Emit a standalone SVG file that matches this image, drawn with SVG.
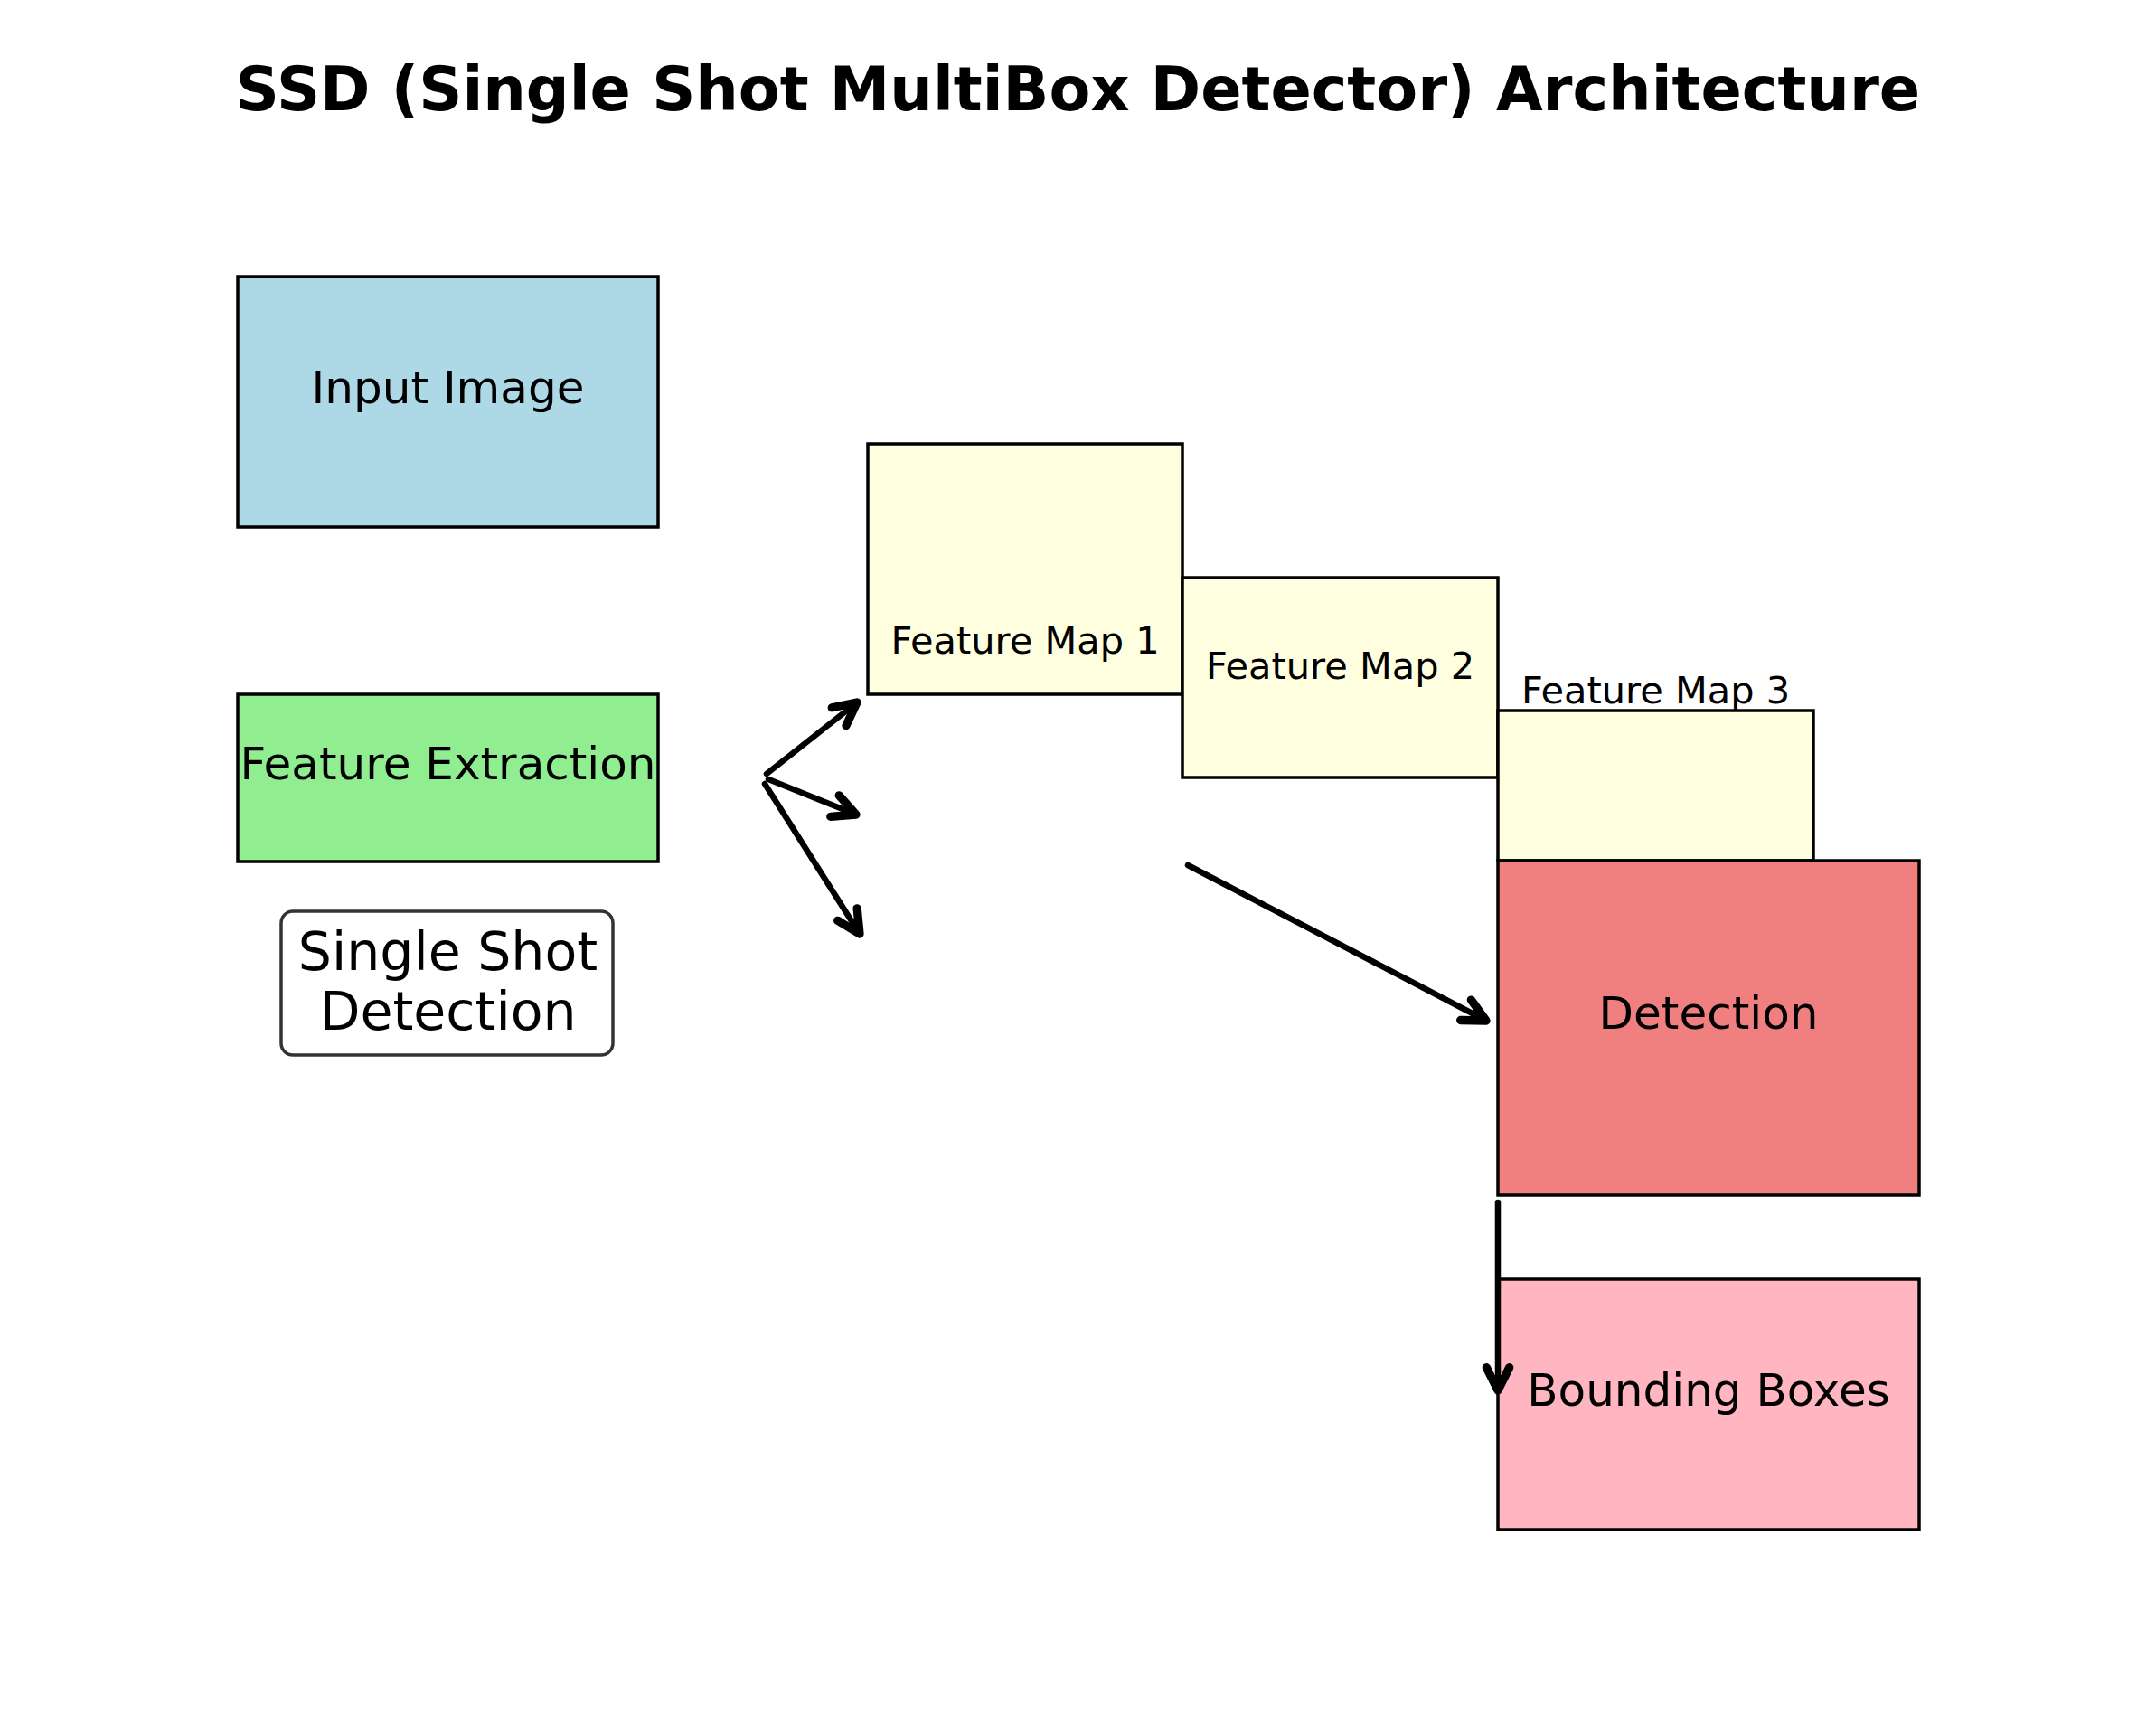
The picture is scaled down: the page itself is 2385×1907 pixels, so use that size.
<svg xmlns="http://www.w3.org/2000/svg" width="2385" height="1907" viewBox="0 0 2385 1907">
<style>
  .box { stroke: #000; stroke-width: 3.5; }
  .lbl { font-family: "DejaVu Sans", "Noto Sans", sans-serif; fill: #000; text-anchor: middle; }
  .big { font-size: 50px; }
  .fm { font-size: 41.5px; }
  .conn { stroke: #000; stroke-width: 6.5; stroke-linecap: round; fill: none; }
</style>
<defs>
  <marker id="ah" markerUnits="userSpaceOnUse" markerWidth="40" markerHeight="40" viewBox="-25 -15 30 30" refX="0" refY="0" orient="auto">
    <path d="M-19,-9.5 L0,0 L-19,9.5" fill="none" stroke="#000" stroke-width="7" stroke-linecap="round" stroke-linejoin="round"/>
  </marker>
</defs>
<rect width="2385" height="1907" fill="#fff"/>
<text x="1192.5" y="121.5" font-family="DejaVu Sans, sans-serif" font-weight="bold" font-size="66.8" text-anchor="middle">SSD (Single Shot MultiBox Detector) Architecture</text>

<g id="input-image">
  <rect class="box" x="263" y="306" width="465" height="277" fill="#ADD8E6"/>
  <text class="lbl big" x="495.5" y="446">Input Image</text>
</g>
<g id="feature-extraction">
  <rect class="box" x="263" y="768" width="465" height="185" fill="#90EE90"/>
  <text class="lbl big" x="495.5" y="862">Feature Extraction</text>
</g>
<g id="single-shot-detection">
  <rect x="311" y="1008" width="367" height="159" rx="13" ry="13" fill="#fff" stroke="#333" stroke-width="3.5"/>
  <text class="lbl" font-size="58.5" x="495.5" y="1073">Single Shot</text>
  <text class="lbl" font-size="58.5" x="495.5" y="1139">Detection</text>
</g>
<g id="feature-map-1">
  <rect class="box" x="960" y="491" width="348" height="277" fill="#FFFFE0"/>
  <text class="lbl fm" x="1134" y="722.5">Feature Map 1</text>
</g>
<g id="feature-map-2">
  <rect class="box" x="1308" y="639" width="349" height="221" fill="#FFFFE0"/>
  <text class="lbl fm" x="1482.5" y="751">Feature Map 2</text>
</g>
<g id="feature-map-3">
  <rect class="box" x="1657" y="786" width="349" height="166" fill="#FFFFE0"/>
  <text class="lbl fm" x="1831.5" y="778">Feature Map 3</text>
</g>
<g id="detection">
  <rect class="box" x="1657" y="952" width="466" height="370" fill="#F08080"/>
  <text class="lbl big" x="1890" y="1138">Detection</text>
</g>
<g id="bounding-boxes">
  <rect class="box" x="1657" y="1415" width="466" height="277" fill="#FFB6C1"/>
  <text class="lbl big" x="1890" y="1555">Bounding Boxes</text>
</g>

<g id="connectors">
  <line class="conn" x1="848" y1="856" x2="948" y2="777" marker-end="url(#ah)"/>
  <line class="conn" x1="850" y1="862" x2="947" y2="901" marker-end="url(#ah)"/>
  <line class="conn" x1="846" y1="867" x2="951" y2="1033" marker-end="url(#ah)"/>
  <line class="conn" x1="1314" y1="957" x2="1644" y2="1129" marker-end="url(#ah)"/>
  <line class="conn" x1="1657" y1="1330" x2="1657" y2="1538" marker-end="url(#ah)"/>
</g>
</svg>
